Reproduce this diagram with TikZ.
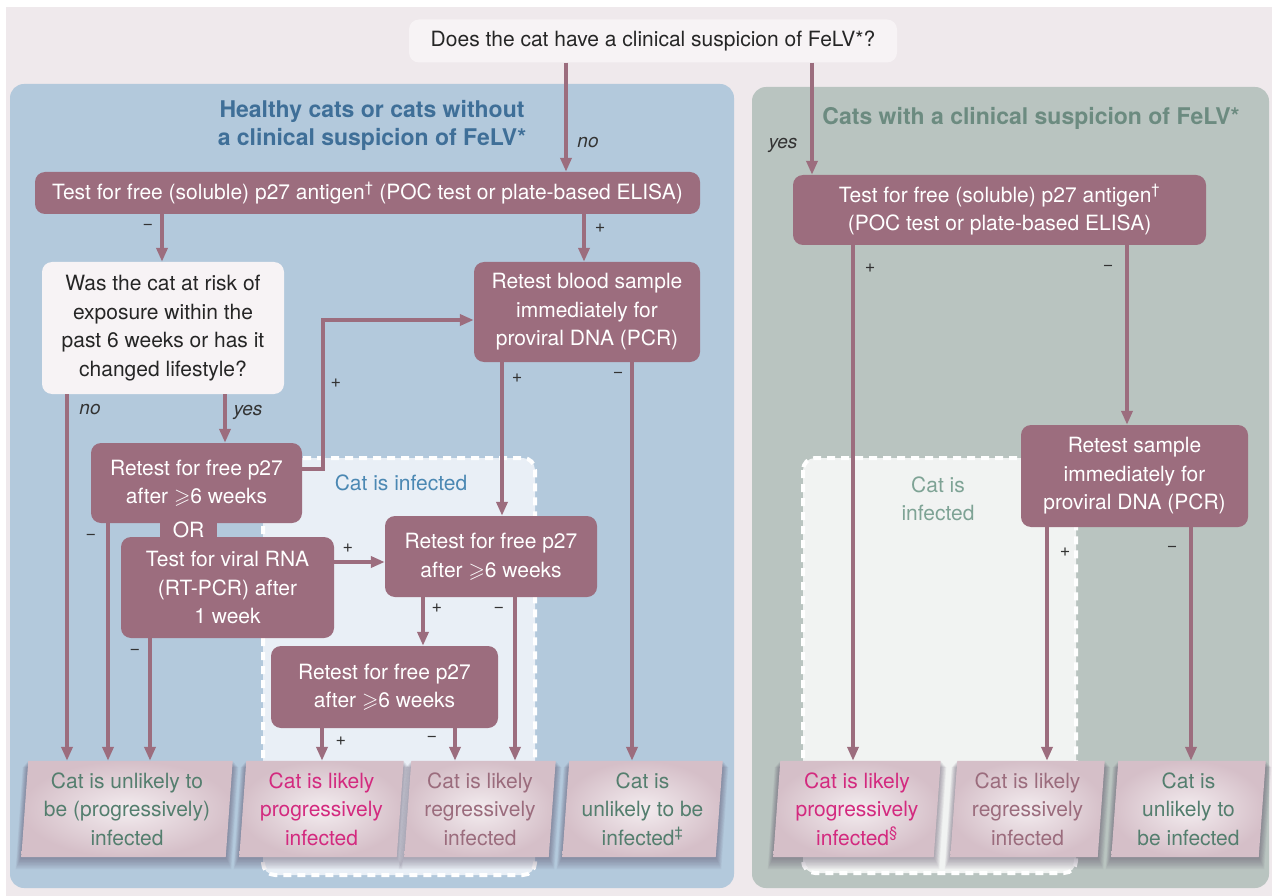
\documentclass[tikz,border=0pt]{standalone}
\usepackage{amssymb}
\usepackage{fontspec}
\setmainfont{TeX Gyre Heros}
\usetikzlibrary{arrows.meta}
\definecolor{bgpink}{HTML}{EFE9EC}
\definecolor{bluep}{HTML}{B3C9DC}
\definecolor{greenp}{HTML}{B9C4C0}
\definecolor{infblue}{HTML}{E9EFF6}
\definecolor{infgrey}{HTML}{F1F3F2}
\definecolor{mauve}{HTML}{9C6D7E}
\definecolor{qfill}{HTML}{F7F3F5}
\definecolor{titleblue}{HTML}{3F6F98}
\definecolor{titlegreen}{HTML}{6C8B80}
\definecolor{infbluetxt}{HTML}{4B88B3}
\definecolor{infgreentxt}{HTML}{7EA395}
\definecolor{labc}{HTML}{333333}
\definecolor{paperin}{HTML}{F3ECEF}
\definecolor{paperout}{HTML}{D5BFC8}
\definecolor{ptgreen}{HTML}{547E6E}
\definecolor{ptmag}{HTML}{D32A7F}
\definecolor{ptmauve}{HTML}{9B6C7D}
\definecolor{shadowc}{HTML}{4A3A55}
\newcommand\fm{\fontsize{21}{28.5}\selectfont}
\newcommand\ft{\fontsize{23}{28}\selectfont\bfseries}
\newcommand\fl{\fontsize{18}{20}\selectfont}
\newcommand\fii{\fontsize{19}{22}\selectfont\itshape}
\newcommand\gq{$\geqslant$}
\pgfdeclarelayer{back}
\pgfdeclarelayer{mid}
\pgfsetlayers{back,mid,main}
\newcommand\paperbg[1]{\begin{pgfonlayer}{mid}%
\foreach \k in {1,...,8}{\fill[shadowc,opacity=0.06] ([xshift=3.5pt-\k*0.7pt, yshift=-\k*0.8pt]#1.north west) -- ([xshift=3.5pt+\k*0.7pt, yshift=-\k*0.8pt]#1.north east) -- ([xshift=-3.5pt+\k*0.7pt, yshift=-\k*1.5pt]#1.south east) -- ([xshift=-3.5pt-\k*0.7pt, yshift=-\k*1.5pt]#1.south west) -- cycle;}%
\path[paper] ([xshift=3.5pt]#1.north west) -- ([xshift=3.5pt]#1.north east) -- ([xshift=-3.5pt]#1.south east) -- ([xshift=-3.5pt]#1.south west) -- cycle;\end{pgfonlayer}}
\begin{document}
\begin{tikzpicture}[x=1pt,y=-1pt,
  box/.style={rounded corners=10pt, inner sep=0pt, align=center, font=\fm},
  mbox/.style={box, fill=mauve, text=white},
  arr/.style={draw=mauve, line width=4pt, -{Triangle[length=14pt,width=11pt]}},
  lbl/.style={font=\fl, text=labc, inner sep=0pt},
  ilbl/.style={font=\fii, text=labc, inner sep=0pt},
  paper/.style={shade, inner color=paperin, outer color=paperout},
  ptxt/.style={inner sep=0pt, align=center, font=\fm},
  inf/.style={draw=white, line width=4pt, dash pattern=on 8pt off 6pt, rounded corners=12pt}
]
\useasboundingbox (0,0) rectangle (1272,896);
\begin{pgfonlayer}{back}
\fill[white] (0,0) rectangle (1272,896);
\fill[bgpink] (6,7) rectangle (1272,896);
\fill[bluep, rounded corners=14pt] (10,84) rectangle (734,888);
\fill[greenp, rounded corners=14pt] (752,87) rectangle (1269,888);
\path[inf, fill=infblue] (263,458) rectangle (535,875);
\path[inf, fill=infgrey] (803,458) rectangle (1076,873);
\end{pgfonlayer}

% titles
\node[font=\ft, text=titleblue, align=center] (tL) at (372,125) {Healthy cats or cats without\\a clinical suspicion of FeLV*};
\node[font=\ft, text=titlegreen] (tR) at (1031,118) {Cats with a clinical suspicion of FeLV*};
\node[font=\fm, text=infbluetxt] (ciL) at (401,483) {Cat is infected};
\node[font=\fm, text=infgreentxt, align=center] (ciR) at (938,499) {Cat is\\infected};

% boxes
\node[box, fill=qfill, text=black!85, minimum width=488, minimum height=43] (q) at (653,41) {Does the cat have a clinical suspicion of FeLV*?};
\node[mbox, minimum width=665, minimum height=42] (tl) at (367.5,193) {Test for free (soluble) p27 antigen\textsuperscript{†} (POC test or plate-based ELISA)};
\node[mbox, minimum width=413, minimum height=70] (tr) at (999.5,210) {Test for free (soluble) p27 antigen\textsuperscript{†}\\(POC test or plate-based ELISA)};
\node[box, fill=qfill, text=black!85, minimum width=242, minimum height=132] (risk) at (163,328) {Was the cat at risk of\\exposure within the\\past 6 weeks or has it\\changed lifestyle?};
\node[mbox, minimum width=226, minimum height=100] (rb) at (587,312) {Retest blood sample\\immediately for\\proviral DNA (PCR)};
\node[mbox, minimum width=211, minimum height=80] (A) at (196.5,483) {Retest for free p27\\after \gq6 weeks};
\node[mbox, minimum width=213, minimum height=101] (B) at (227.5,587.5) {Test for viral RNA\\(RT-PCR) after\\1 week};
\node[fill=mauve, text=white, font=\fm, inner sep=0pt, minimum width=57, minimum height=24] (or) at (188.5,530) {OR};
\node[mbox, minimum width=212, minimum height=81] (C) at (491,556.5) {Retest for free p27\\after \gq6 weeks};
\node[mbox, minimum width=227, minimum height=82] (D) at (384.5,687) {Retest for free p27\\after \gq6 weeks};
\node[mbox, minimum width=227, minimum height=102] (rs) at (1134.5,476) {Retest sample\\immediately for\\proviral DNA (PCR)};

% outcome papers
\node[ptxt, text=ptgreen, minimum width=204, minimum height=96] (b1) at (127,809) {Cat is unlikely to\\be (progressively)\\infected};
\node[ptxt, text=ptmag, minimum width=157, minimum height=96] (b2) at (321.5,809) {Cat is likely\\progressively\\infected};
\node[ptxt, text=ptmauve, minimum width=144, minimum height=96] (b3) at (480,809) {Cat is likely\\regressively\\infected};
\node[ptxt, text=ptgreen, minimum width=153, minimum height=96] (b4) at (642.5,809) {Cat is\\unlikely to be\\infected\textsuperscript{‡}};
\node[ptxt, text=ptmag, minimum width=160, minimum height=96] (r1) at (857,809) {Cat is likely\\progressively\\infected\textsuperscript{§}};
\node[ptxt, text=ptmauve, minimum width=147, minimum height=96] (r2) at (1027.5,809) {Cat is likely\\regressively\\infected};
\node[ptxt, text=ptgreen, minimum width=147, minimum height=96] (r3) at (1188.5,809) {Cat is\\unlikely to\\be infected};
\paperbg{b1}\paperbg{b2}\paperbg{b3}\paperbg{b4}\paperbg{r1}\paperbg{r2}\paperbg{r3}

% connectors
\draw[arr] (q.south -| 566,0) -- (tl.north -| 566,0);
\draw[arr] (q.south -| 812,0) -- (tr.north -| 812,0);
\draw[arr] (tl.south -| 162,0) -- (risk.north -| 162,0);
\draw[arr] (tl.south -| 584,0) -- (rb.north -| 584,0);
\draw[arr] (risk.south -| 67,0) -- (b1.north -| 67,0);
\draw[arr] (risk.south -| 225,0) -- (A.north -| 225,0);
\draw[arr] (A.east |- 0,469) -- (323,469) |- (rb.west |- 0,320);
\draw[arr] (A.south -| 108,0) -- (b1.north -| 108,0);
\draw[arr] (B.south -| 150,0) -- (b1.north -| 150,0);
\draw[arr] (B.east |- 0,562) -- (C.west |- 0,562);
\draw[arr] (rb.south -| 502,0) -- (C.north -| 502,0);
\draw[arr] (rb.south -| 632,0) -- (b4.north -| 632,0);
\draw[arr] (C.south -| 423,0) -- (D.north -| 423,0);
\draw[arr] (C.south -| 515,0) -- (b3.north -| 515,0);
\draw[arr] (D.south -| 322,0) -- (b2.north -| 322,0);
\draw[arr] (D.south -| 455,0) -- (b3.north -| 455,0);
\draw[arr] (tr.south -| 853,0) -- (r1.north -| 853,0);
\draw[arr] (tr.south -| 1127,0) -- (rs.north -| 1127,0);
\draw[arr] (rs.south -| 1047,0) -- (r2.north -| 1047,0);
\draw[arr] (rs.south -| 1191,0) -- (r3.north -| 1191,0);

% labels
\node[ilbl] (l1) at (588,143) {no};
\node[ilbl] (l2) at (783,145) {yes};
\node[lbl] (l3) at (148,227) {−};
\node[lbl] (l4) at (600,228) {+};
\node[ilbl] (l5) at (90,410) {no};
\node[ilbl] (l6) at (248,412) {yes};
\node[lbl] (l7) at (336,383) {+};
\node[lbl] (l8) at (91,537) {−};
\node[lbl] (l9) at (348,548) {+};
\node[lbl] (l10) at (135,652) {−};
\node[lbl] (l11) at (517,378) {+};
\node[lbl] (l12) at (618,375) {−};
\node[lbl] (l13) at (437,608) {+};
\node[lbl] (l14) at (499,610) {−};
\node[lbl] (l15) at (341,741) {+};
\node[lbl] (l16) at (432,739) {−};
\node[lbl] (l17) at (870,268) {+};
\node[lbl] (l18) at (1108,268) {−};
\node[lbl] (l19) at (1065,552) {+};
\node[lbl] (l20) at (1172,549) {−};
\end{tikzpicture}
\end{document}
